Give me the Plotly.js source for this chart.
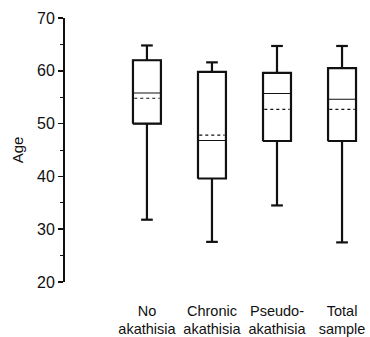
<!DOCTYPE html>
<html><head><meta charset="utf-8">
<script src="https://cdn.plot.ly/plotly-3.0.1.min.js"></script>
<style>html,body{margin:0;padding:0;background:#fff}</style>
</head><body>
<div id="chart" style="width:370px;height:337px"></div>
<script>
var categories = ["No<br>akathisia", "Chronic<br>akathisia", "Pseudo-<br>akathisia", "Total<br>sample"];
var positions = [0, 1, 2, 3];
var lowerWhisker = [31.8, 27.6, 34.5, 27.5];
var q1 = [50.0, 39.6, 46.7, 46.7];
var median = [55.8, 46.8, 55.7, 54.6];
var mean = [54.8, 47.8, 52.7, 52.7];
var q3 = [62.0, 59.8, 59.6, 60.5];
var upperWhisker = [64.8, 61.6, 64.7, 64.7];

var boxWidth = 0.43;
var capHalf = 0.09;

// outline + whisker + cap paths built from the data arrays
var outX = [], outY = [], meanX = [], meanY = [];
for (var i = 0; i < positions.length; i++) {
  var p = positions[i], h = boxWidth / 2;
  outX.push(p - h, p + h, p + h, p - h, p - h, null);
  outY.push(q1[i], q1[i], q3[i], q3[i], q1[i], null);
  outX.push(p, p, null, p, p, null);
  outY.push(q3[i], upperWhisker[i], null, q1[i], lowerWhisker[i], null);
  outX.push(p - capHalf, p + capHalf, null, p - capHalf, p + capHalf, null);
  outY.push(upperWhisker[i], upperWhisker[i], null, lowerWhisker[i], lowerWhisker[i], null);
  meanX.push(p - h + 0.02, p + h - 0.02, null);
  meanY.push(mean[i], mean[i], null);
}

var traces = [
  {
    type: 'box',
    x: positions,
    q1: q1, median: median, q3: q3,
    lowerfence: lowerWhisker, upperfence: upperWhisker,
    boxmean: false,
    width: boxWidth,
    whiskerwidth: 0,
    fillcolor: 'rgba(0,0,0,0)',
    line: {color: '#111', width: 1.1},
    hoverinfo: 'skip',
    showlegend: false
  },
  {
    type: 'scatter', mode: 'lines',
    x: meanX, y: meanY,
    line: {color: '#111', width: 1.2, dash: '3px,3px'},
    hoverinfo: 'skip', showlegend: false
  },
  {
    type: 'scatter', mode: 'lines',
    x: outX, y: outY,
    line: {color: '#111', width: 2.2},
    hoverinfo: 'skip', showlegend: false
  }
];

var layout = {
  width: 370, height: 337,
  margin: {l: 65, r: 0, t: 18, b: 55},
  paper_bgcolor: '#fff', plot_bgcolor: '#fff',
  font: {family: 'Liberation Sans, Arial, sans-serif', color: '#111', size: 13},
  showlegend: false,
  xaxis: {
    range: [-1.26, 3.43],
    tickvals: positions, ticktext: categories,
    showline: false, showgrid: false, zeroline: false,
    ticks: '', ticklabelstandoff: 18,
    tickfont: {size: 14.5}
  },
  yaxis: {
    range: [20, 70],
    tickvals: [20, 30, 40, 50, 60, 70],
    showline: true, linecolor: '#111', linewidth: 2,
    showgrid: false, zeroline: false,
    ticks: 'outside', ticklen: 5, tickwidth: 1.5, tickcolor: '#111',
    minor: {tickvals: [25, 35, 45, 55, 65], ticks: 'outside', ticklen: 3, tickwidth: 1, tickcolor: '#111'},
    tickfont: {size: 16},
    title: {text: 'Age', font: {size: 15}, standoff: 10}
  }
};

Plotly.newPlot('chart', traces, layout, {displayModeBar: false, staticPlot: true});
</script>
</body></html>
